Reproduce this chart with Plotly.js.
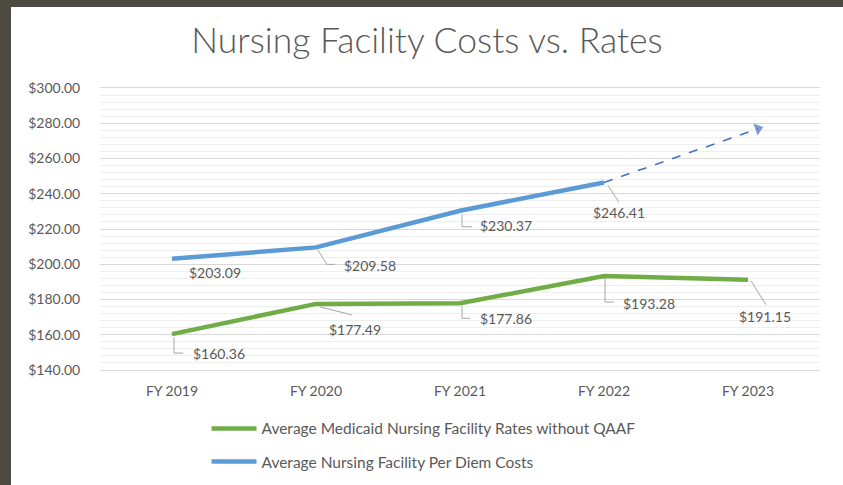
<!DOCTYPE html>
<html>
<head>
<meta charset="utf-8">
<script src="https://cdn.plot.ly/plotly-3.0.1.min.js"></script>
<style>
  html, body { margin: 0; padding: 0; width: 843px; height: 485px; background: #4d4a42; overflow: hidden; }
  #chart { position: absolute; left: 11px; top: 7px; width: 832px; height: 478px; background: #ffffff; }
</style>
</head>
<body>
<div id="chart"></div>
<script>
// ---- data ----
const categories = ["FY 2019", "FY 2020", "FY 2021", "FY 2022", "FY 2023"];
const rateName = "Average Medicaid Nursing Facility Rates without QAAF";
const costName = "Average Nursing Facility Per Diem Costs";
const rateValues = [160.36, 177.49, 177.86, 193.28, 191.15];
const costValues = [203.09, 209.58, 230.37, 246.41];
// projected cost trend (dashed arrow), x given as category index
const projX = [3, 4.07];
const projY = [246.41, 276.9];
const yTickVals = [140, 160, 180, 200, 220, 240, 260, 280, 300];
const yTickText = yTickVals.map(v => "$" + v.toFixed(2));

// ---- label placement (pixels, dy positive = down) ----
const costLabelPos = [[43, 14], [54, 18], [46, 15], [15, 30]];
const rateLabelPos = [[47, 19], [39, 26], [46, 15], [45, 27], [17, 37]];
const costLeaders = [null, [[2,3],[11,17],[19,17]], [[2,4],[2,16],[12,16]], [[4,3],[15,20]]];
const rateLeaders = [[[2,3],[2,19],[11,19]], [[4,3],[36,11]], [[2,3],[2,15],[10,15]], [[1,2],[1,26],[10,26]], [[3,1],[18,25]]];

const FONT = "Lato, 'Open Sans', sans-serif";
const TXT = "#595959";
const idx = categories.map((c, i) => i);

const traces = [
  { x: idx, y: rateValues, name: rateName, type: "scatter", mode: "lines",
    line: { color: "#70ad47", width: 4.5 }, legendgroup: "a" },
  { x: idx.slice(0, costValues.length), y: costValues, name: costName, type: "scatter", mode: "lines",
    line: { color: "#5b9bd5", width: 4.5 }, legendgroup: "b" },
  { x: projX, y: projY, type: "scatter", mode: "lines+markers", showlegend: false, hoverinfo: "skip",
    line: { color: "#4472c4", width: 1.6, dash: "dash" },
    marker: { symbol: ["circle", "triangle-up"], size: [0, 11], color: "#4472c4", angleref: "previous", line: { width: 0 } } }
];

const annotations = [];
const shapes = [];
function addLabels(values, pos, leaders) {
  values.forEach((v, i) => {
    annotations.push({ x: i, y: v, xref: "x", yref: "y", text: "$" + v.toFixed(2), showarrow: false,
      xanchor: "center", yanchor: "middle", xshift: pos[i][0], yshift: -pos[i][1],
      font: { family: FONT, size: 14, color: TXT } });
    const L = leaders[i];
    if (L) {
      const path = L.map((p, k) => (k ? "L" : "M") + p[0] + "," + (-p[1])).join(" ");
      shapes.push({ type: "path", xref: "x", yref: "y", xsizemode: "pixel", ysizemode: "pixel",
        xanchor: i, yanchor: v, path: path, line: { color: "#a6a6a6", width: 1 } });
    }
  });
}
addLabels(costValues, costLabelPos, costLeaders);
addLabels(rateValues, rateLabelPos, rateLeaders);

const layout = {
  width: 832, height: 478,
  margin: { l: 89, r: 23, t: 81, b: 115, autoexpand: false },
  paper_bgcolor: "#ffffff", plot_bgcolor: "#ffffff",
  font: { family: FONT, size: 14, color: TXT },
  title: { text: "Nursing Facility Costs vs. Rates", x: 0.5, xanchor: "center", y: 0.93, yanchor: "middle",
    font: { family: FONT, size: 35.5, color: TXT, weight: 300 } },
  xaxis: { range: [-0.5, 4.5], tickvals: idx, ticktext: categories, tickangle: 0, showgrid: false, zeroline: false,
    showline: true, mirror: true, linecolor: "#d9d9d9", linewidth: 1, ticks: "outside", ticklen: 8, tickcolor: "rgba(0,0,0,0)",
    tickfont: { family: FONT, size: 14, color: TXT }, fixedrange: true },
  yaxis: { range: [140, 300], tickvals: yTickVals, ticktext: yTickText,
    showgrid: true, gridcolor: "#d9d9d9", gridwidth: 1, zeroline: false, showline: false,
    ticks: "outside", ticklen: 16, tickcolor: "rgba(0,0,0,0)",
    minor: { dtick: 4, tick0: 140, showgrid: true, gridcolor: "#eeeeee", gridwidth: 1, ticks: "" },
    tickfont: { family: FONT, size: 14, color: TXT }, fixedrange: true },
  showlegend: true,
  legend: { orientation: "v", xref: "container", yref: "container", x: 0.235, xanchor: "left",
    y: 0.153, yanchor: "top", tracegroupgap: 10, itemwidth: 45,
    font: { family: FONT, size: 15.5, color: TXT }, bgcolor: "rgba(0,0,0,0)" },
  annotations: annotations,
  shapes: shapes
};

Plotly.newPlot("chart", traces, layout, { displayModeBar: false, staticPlot: true });
</script>
</body>
</html>
